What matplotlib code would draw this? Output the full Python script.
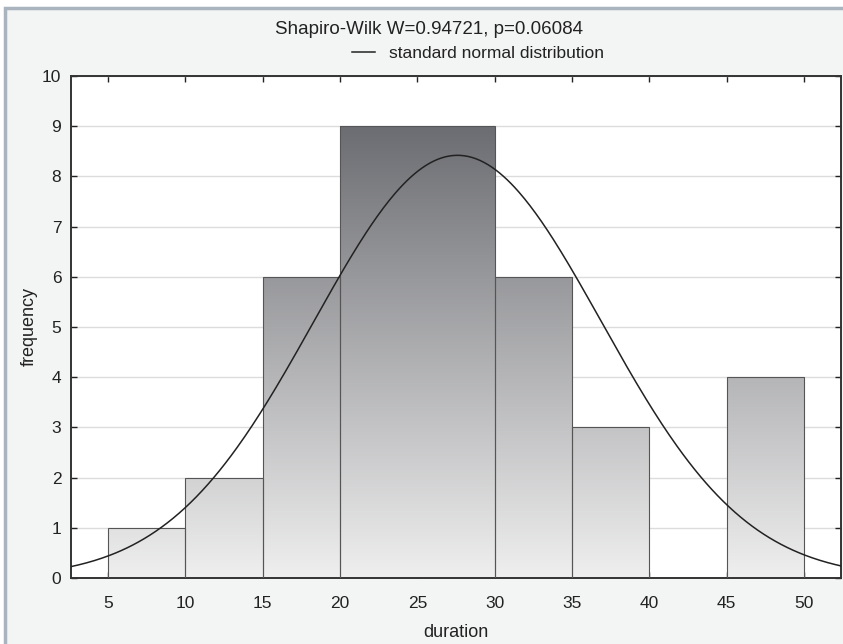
import numpy as np
import matplotlib
matplotlib.use("Agg")
import matplotlib.pyplot as plt
from matplotlib.colors import LinearSegmentedColormap
from matplotlib.lines import Line2D
from matplotlib.patches import Rectangle

# ---- data ----
bin_edges = [5, 10, 15, 20, 30, 35, 40, 45, 50]
counts = [1, 2, 6, 9, 6, 3, 0, 4]
fit_mean = 27.6
fit_sd = 9.3
fit_peak = 8.42
title_text = "Shapiro-Wilk W=0.94721, p=0.06084"
legend_text = "standard normal distribution"
x_ticks = [5, 10, 15, 20, 25, 30, 35, 40, 45, 50]
y_ticks = list(range(0, 11))

plt.rcParams['font.family'] = ['Liberation Sans', 'DejaVu Sans']

fig = plt.figure(figsize=(8.43, 6.44), dpi=100)
fig.patch.set_facecolor('white')
# background panel with frame
bg = Rectangle((5/843, -0.1), 1.2, 1 - 8/644 + 0.1, transform=fig.transFigure,
               facecolor='#f3f4f4', edgecolor='#a9b4bf', linewidth=2.5, zorder=-10)
fig.patches.append(bg)

ax = fig.add_axes([71/843, 1 - 578/644, (841 - 71)/843, (578 - 76)/644])
ax.set_zorder(5)
ax.set_facecolor('white')

# gridlines
ax.set_yticks(y_ticks)
ax.yaxis.grid(True, color='#dcdcdc', linewidth=1.0)
ax.set_axisbelow(True)

cmap = LinearSegmentedColormap.from_list('g', ['#efefef', '#6c6d72'])
grad = np.linspace(0, 1, 256).reshape(-1, 1)
ymax_grad = 9.0
for i, c in enumerate(counts):
    if c <= 0:
        continue
    x0, x1 = bin_edges[i], bin_edges[i + 1]
    rect = Rectangle((x0, 0), x1 - x0, c, facecolor='none', edgecolor='#555555',
                     linewidth=0.8, zorder=3)
    ax.add_patch(rect)
    im = ax.imshow(grad, cmap=cmap, origin='lower', aspect='auto',
                   extent=(x0, x1, 0, ymax_grad), vmin=0, vmax=1, zorder=2,
                   interpolation='bilinear')
    clip = Rectangle((x0, 0), x1 - x0, c, transform=ax.transData)
    im.set_clip_path(clip)
ax.set_xlim(2.6, 52.4)
ax.set_ylim(0, 10)

xs = np.linspace(2.6, 52.4, 400)
ys = fit_peak * np.exp(-(xs - fit_mean) ** 2 / (2 * fit_sd ** 2))
ax.plot(xs, ys, color='#222222', linewidth=1.1, zorder=4)

ax.set_xticks(x_ticks)
ax.tick_params(direction='in', top=True, right=True, length=4, width=1,
               labelsize=12.5, colors='#222222')
ax.tick_params(axis='x', pad=13)
ax.tick_params(axis='y', pad=7)
for s in ax.spines.values():
    s.set_color('#333333')
    s.set_linewidth(1.4)

ax.set_xlabel('duration', fontsize=13, color='#222222', labelpad=9)
ax.set_ylabel('frequency', fontsize=13, color='#222222')
ax.yaxis.set_label_coords(-0.043, 0.5)

fig.text(429/843, 1 - 29/644, title_text, ha='center', va='center', fontsize=13.5, color='#222222')
fig.legend(handles=[Line2D([], [], color='#222222', linewidth=1.1)], labels=[legend_text],
           loc='center', bbox_to_anchor=(478/843, 1 - 53/644), frameon=False,
           fontsize=12.5, handlelength=1.3, handletextpad=0.8, labelcolor='#222222')

fig.savefig('out.png', dpi=100, facecolor=fig.get_facecolor())
